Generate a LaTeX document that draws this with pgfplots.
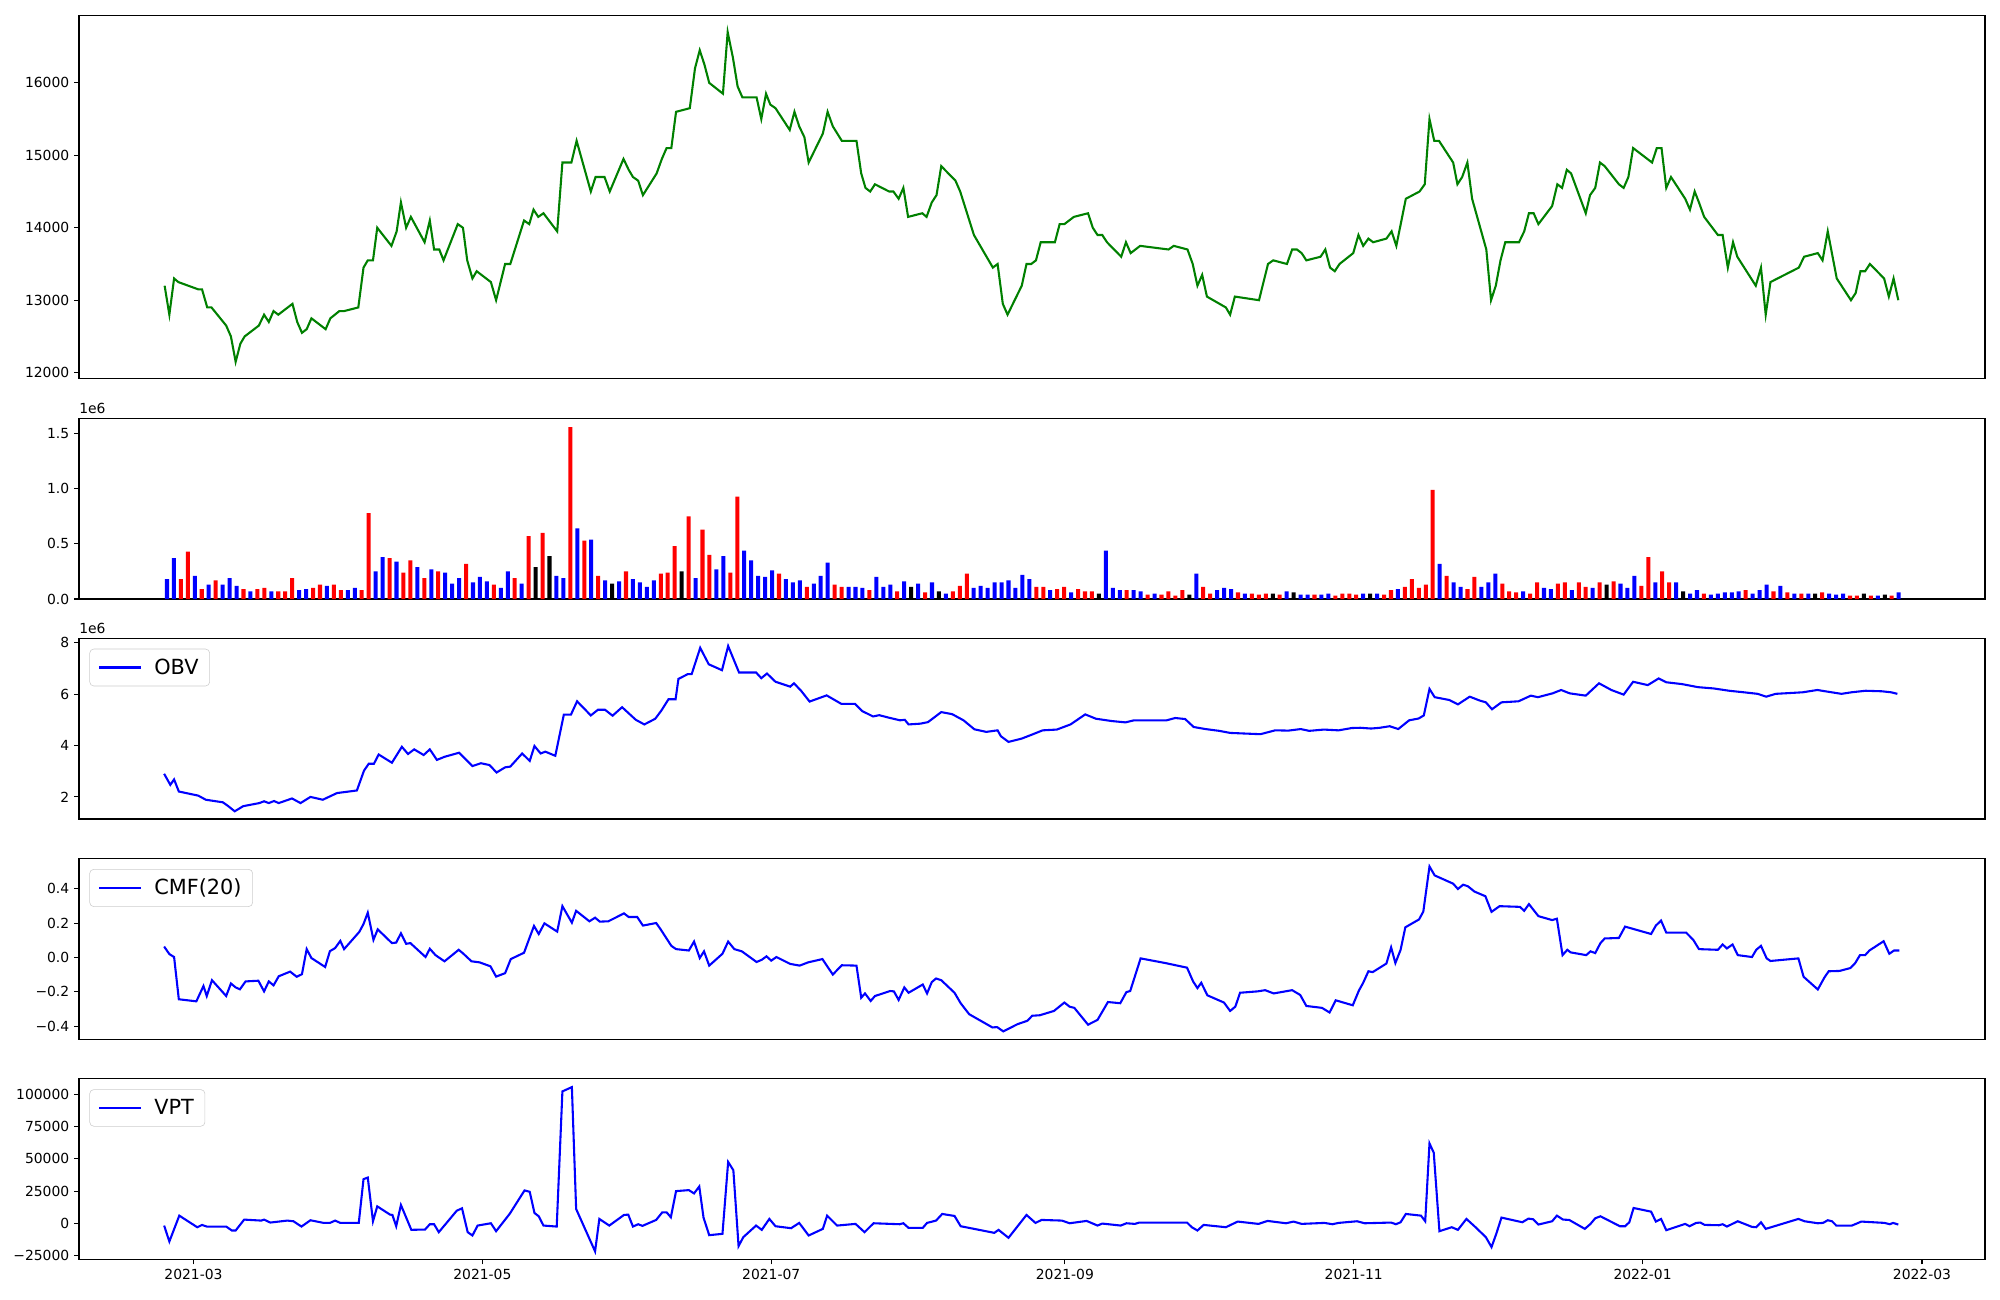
\documentclass[border=0pt]{standalone}
\usepackage{fontspec}
\setmainfont{DejaVu Sans}
\usepackage{pgfplots}
\usepackage{pgfplotstable}
\pgfplotsset{compat=1.18}
\definecolor{mplgreen}{RGB}{0,128,0}
\definecolor{legframe}{RGB}{204,204,204}

\pgfplotstableread{
i v
2 0.18
3 0.43
5 0.09
7 0.17
11 0.09
13 0.09
14 0.10
16 0.07
17 0.07
18 0.19
21 0.10
22 0.13
24 0.13
25 0.08
28 0.08
29 0.78
32 0.37
34 0.24
35 0.35
37 0.19
39 0.25
43 0.32
47 0.13
50 0.19
52 0.57
54 0.60
58 1.56
60 0.53
62 0.21
66 0.25
71 0.23
72 0.24
73 0.48
75 0.75
77 0.63
78 0.40
81 0.24
82 0.93
88 0.23
92 0.11
96 0.13
97 0.11
101 0.08
105 0.07
109 0.06
113 0.07
114 0.12
115 0.23
125 0.11
126 0.11
128 0.09
129 0.11
131 0.09
132 0.07
133 0.07
138 0.08
141 0.04
143 0.04
144 0.07
145 0.03
146 0.08
149 0.11
150 0.05
154 0.06
156 0.05
157 0.04
158 0.05
160 0.04
165 0.04
168 0.03
169 0.05
170 0.05
171 0.04
175 0.04
176 0.08
178 0.11
179 0.18
180 0.10
181 0.13
182 0.99
184 0.21
187 0.09
188 0.20
192 0.14
193 0.07
194 0.06
196 0.05
197 0.15
200 0.14
201 0.15
203 0.15
204 0.11
206 0.15
208 0.16
212 0.12
213 0.38
215 0.25
216 0.15
221 0.05
227 0.08
231 0.07
233 0.06
235 0.05
238 0.06
242 0.03
243 0.03
245 0.03
248 0.03
}\volred

\pgfplotstableread{
i v
53 0.29
55 0.39
64 0.14
74 0.25
107 0.11
111 0.07
134 0.05
147 0.04
159 0.05
162 0.06
173 0.05
207 0.13
218 0.07
237 0.05
244 0.05
247 0.04
}\volblack

\pgfplotstableread{
i v
0 0.18
1 0.37
4 0.21
6 0.13
8 0.13
9 0.19
10 0.12
12 0.07
15 0.07
19 0.08
20 0.09
23 0.12
26 0.08
27 0.10
30 0.25
31 0.38
33 0.34
36 0.29
38 0.27
40 0.24
41 0.14
42 0.19
44 0.15
45 0.20
46 0.16
48 0.10
49 0.25
51 0.14
56 0.21
57 0.19
59 0.64
61 0.54
63 0.17
65 0.16
67 0.18
68 0.15
69 0.11
70 0.17
76 0.19
79 0.27
80 0.39
83 0.44
84 0.35
85 0.21
86 0.20
87 0.26
89 0.18
90 0.15
91 0.17
93 0.14
94 0.21
95 0.33
98 0.11
99 0.11
100 0.10
102 0.20
103 0.11
104 0.13
106 0.16
108 0.14
110 0.15
112 0.05
116 0.10
117 0.12
118 0.10
119 0.15
120 0.15
121 0.17
122 0.10
123 0.22
124 0.18
127 0.08
130 0.06
135 0.44
136 0.10
137 0.08
139 0.08
140 0.07
142 0.05
148 0.23
151 0.08
152 0.10
153 0.09
155 0.05
161 0.07
163 0.04
164 0.04
166 0.04
167 0.05
172 0.05
174 0.05
177 0.09
183 0.32
185 0.15
186 0.11
189 0.11
190 0.15
191 0.23
195 0.07
198 0.10
199 0.09
202 0.08
205 0.10
209 0.14
210 0.10
211 0.21
214 0.15
217 0.15
219 0.05
220 0.08
222 0.04
223 0.05
224 0.06
225 0.06
226 0.07
228 0.05
229 0.08
230 0.13
232 0.12
234 0.05
236 0.05
239 0.05
240 0.04
241 0.05
246 0.03
249 0.06
}\volblue

\pgfplotsset{
 mpl/.style={scale only axis, width=1372.3pt, xmin=34.82, xmax=437.3,
   axis line style={line width=0.8pt}, tick style={black, line width=0.8pt},
   tick align=outside, major tick length=3.5pt, xtick pos=bottom, ytick pos=left,
   tick label style={font=\fontsize{10}{12}\selectfont},
   scaled ticks=false, clip mode=individual,
   /pgf/number format/assume math mode=true, /pgf/number format/1000 sep={}},
 mpllegend/.style={legend style={at={(0,1)}, anchor=north west, xshift=7.5pt, yshift=-7.5pt,
   draw=legframe, rounded corners=3pt, fill=white, font=\fontsize{15}{18}\selectfont,
   inner xsep=6pt, inner ysep=5pt, cells={anchor=west}},
   legend image code/.code={\draw[##1] (0pt,0pt) -- (30pt,0pt); \path (37pt,0pt);}},
 volbar/.style={ybar, bar width=0.85, bar shift=0pt, draw=none, fill=#1},
}

\begin{document}
\begin{tikzpicture}
\useasboundingbox (0,0) rectangle (1440pt,936pt);

% Panel 1: price
\begin{axis}[mpl, at={(56.88pt,663.6pt)}, anchor=south west, height=261.1pt,
  ymin=11922, ymax=16927, ytick={12000,13000,14000,15000,16000}, xtick=\empty]
\addplot[mplgreen, line width=1.5pt] coordinates {
(52.9,13200) (53.9,12800) (54.9,13300) (55.8,13250) (60.0,13150) (60.8,13150) (61.9,12900) (62.8,12900) (65.9,12650) (66.9,12500) (67.9,12150) (68.9,12400) (69.8,12500) (72.8,12650) (73.9,12800) (74.9,12700) (75.9,12850) (76.9,12800) (79.9,12950) (80.9,12700) (81.9,12550) (82.9,12600) (83.9,12750) (86.9,12600) (87.9,12750) (89.8,12850) (90.8,12850) (93.8,12900) (94.9,13450) (95.8,13550) (96.9,13550) (97.8,14000) (100.8,13750) (101.9,13950) (102.8,14350) (103.9,14000) (104.9,14150) (107.8,13800) (108.9,14100) (109.8,13700) (110.9,13700) (111.8,13550) (114.8,14050) (115.9,14000) (116.8,13550) (117.9,13300) (118.8,13400) (121.8,13250) (122.9,13000) (124.8,13500) (125.9,13500) (128.8,14100) (129.9,14050) (130.8,14250) (131.8,14150) (132.9,14200) (135.8,13950) (136.9,14900) (138.8,14900) (139.9,15200) (142.9,14500) (143.9,14700) (145.8,14700) (146.9,14500) (149.8,14950) (150.9,14800) (151.8,14700) (152.9,14650) (153.9,14450) (156.8,14750) (157.9,14950) (158.9,15100) (159.9,15100) (160.9,15600) (163.8,15650) (164.9,16200) (165.9,16450) (166.9,16250) (167.9,16000) (170.8,15850) (171.8,16700) (172.9,16350) (173.9,15950) (174.9,15800) (177.9,15800) (178.9,15500) (179.9,15850) (180.8,15700) (181.9,15650) (184.9,15350) (185.9,15600) (186.9,15400) (188.0,15250) (188.9,14900) (191.9,15300) (192.9,15600) (194.0,15400) (195.9,15200) (199.0,15200) (200.0,14750) (200.9,14550) (201.9,14500) (202.9,14600) (205.9,14500) (206.8,14500) (207.9,14400) (208.9,14550) (209.9,14150) (212.9,14200) (213.8,14150) (214.9,14350) (215.9,14450) (216.9,14850) (219.9,14650) (220.9,14500) (223.8,13900) (227.8,13450) (228.8,13500) (229.9,12950) (230.9,12800) (233.9,13200) (234.9,13500) (235.9,13500) (236.9,13550) (237.9,13800) (240.9,13800) (241.9,14050) (242.9,14050) (244.9,14150) (247.9,14200) (248.9,14000) (249.9,13900) (250.9,13900) (251.9,13800) (254.9,13600) (255.9,13800) (256.9,13650) (258.9,13750) (264.9,13700) (266.0,13750) (268.9,13700) (270.0,13500) (271.0,13200) (272.0,13350) (273.0,13050) (277.0,12900) (277.9,12800) (278.9,13050) (284.0,13000) (285.9,13500) (287.0,13550) (289.9,13500) (291.0,13700) (292.0,13700) (293.0,13650) (294.0,13550) (297.0,13600) (298.0,13700) (299.0,13450) (300.0,13400) (301.0,13500) (303.9,13650) (305.0,13900) (306.0,13750) (307.1,13850) (308.1,13800) (310.9,13850) (312.0,13950) (313.0,13750) (315.0,14400) (317.9,14500) (319.0,14600) (320.0,15500) (321.0,15200) (322.0,15200) (325.0,14900) (325.9,14600) (326.9,14700) (328.0,14900) (329.0,14400) (332.0,13700) (333.0,13000) (334.0,13200) (335.0,13550) (336.0,13800) (338.9,13800) (340.0,13950) (341.0,14200) (342.0,14200) (343.0,14050) (345.9,14300) (347.0,14600) (348.0,14550) (349.0,14800) (349.9,14750) (353.0,14200) (353.9,14450) (355.0,14550) (356.0,14900) (357.0,14850) (360.0,14600) (361.0,14550) (362.0,14700) (363.0,15100) (367.0,14900) (368.0,15100) (369.0,15100) (370.0,14550) (371.0,14700) (374.0,14400) (375.0,14250) (376.0,14500) (376.9,14350) (378.0,14150) (380.9,13900) (381.9,13900) (383.0,13450) (384.1,13800) (385.0,13600) (388.9,13200) (390.0,13450) (391.0,12800) (392.0,13250) (398.0,13450) (399.1,13600) (402.0,13650) (403.0,13550) (404.1,13950) (406.0,13300) (409.0,13000) (410.0,13100) (411.0,13400) (412.0,13400) (413.0,13500) (416.0,13300) (417.0,13050) (418.0,13300) (419.0,13000)
};
\end{axis}

% Panel 2: volume
\begin{axis}[mpl, at={(56.88pt,504.7pt)}, anchor=south west, height=130.1pt,
  ymin=0, ymax=1.64, ytick={0,0.5,1,1.5}, yticklabels={0.0,0.5,1.0,1.5}, xtick=\empty]
\addplot[volbar=red] table[x expr=53.40+\thisrow{i}*1.46859, y=v] {\volred};
\addplot[volbar=blue] table[x expr=53.40+\thisrow{i}*1.46859, y=v] {\volblue};
\addplot[volbar=black] table[x expr=53.40+\thisrow{i}*1.46859, y=v] {\volblack};
\node[anchor=base west, inner sep=0pt, font=\fontsize{10}{12}\selectfont, yshift=3.6pt] at (rel axis cs:0,1) {1e6};
\end{axis}

% Panel 3: OBV
\begin{axis}[mpl, mpllegend, at={(56.88pt,346.3pt)}, anchor=south west, height=130.1pt,
  ymin=1.14, ymax=8.17, ytick={2,4,6,8}, xtick=\empty]
\addplot[blue, line width=1.5pt] coordinates {
(52.8,2.90) (54.1,2.47) (54.9,2.68) (55.9,2.21) (60.0,2.05) (61.6,1.89) (65.2,1.79) (66.2,1.66) (67.7,1.44) (69.5,1.64) (72.9,1.76) (73.9,1.83) (74.9,1.76) (76.0,1.84) (77.0,1.76) (79.8,1.94) (81.6,1.76) (83.7,2.00) (86.3,1.89) (89.3,2.15) (93.5,2.25) (95.0,3.02) (96.0,3.29) (97.1,3.29) (98.1,3.65) (100.9,3.33) (103.0,3.95) (104.3,3.67) (105.6,3.85) (107.6,3.63) (108.9,3.85) (110.4,3.44) (112.0,3.56) (115.1,3.72) (117.9,3.20) (119.7,3.31) (121.5,3.24) (123.0,2.95) (124.8,3.15) (125.9,3.18) (128.4,3.69) (130.0,3.40) (131.0,3.98) (132.3,3.69) (133.3,3.76) (135.4,3.60) (137.2,5.20) (138.7,5.20) (140.0,5.72) (142.9,5.17) (144.4,5.39) (145.9,5.39) (147.5,5.16) (149.5,5.49) (152.4,5.00) (154.2,4.82) (156.5,5.04) (157.8,5.36) (159.3,5.80) (160.8,5.80) (161.4,6.59) (163.4,6.78) (164.2,6.78) (166.0,7.80) (167.8,7.16) (170.6,6.93) (171.9,7.87) (174.2,6.84) (177.8,6.84) (178.9,6.62) (180.1,6.80) (181.9,6.48) (185.0,6.29) (185.8,6.42) (187.3,6.13) (189.1,5.71) (192.7,5.95) (195.8,5.62) (198.7,5.62) (200.2,5.34) (202.5,5.13) (203.8,5.18) (205.9,5.08) (208.2,4.98) (209.2,5.00) (210.0,4.82) (212.5,4.85) (214.1,4.91) (216.9,5.30) (219.2,5.22) (221.6,4.98) (223.9,4.63) (226.4,4.53) (228.8,4.59) (229.5,4.36) (231.1,4.14) (233.9,4.27) (236.0,4.42) (238.3,4.59) (241.3,4.62) (244.2,4.82) (247.3,5.21) (249.6,5.04) (253.0,4.95) (255.8,4.90) (257.6,4.98) (264.5,4.98) (266.3,5.07) (268.4,5.03) (270.2,4.72) (272.7,4.64) (275.6,4.57) (277.9,4.49) (284.3,4.44) (287.4,4.59) (290.2,4.58) (292.8,4.64) (294.6,4.57) (297.7,4.62) (300.8,4.59) (303.6,4.68) (305.4,4.69) (307.7,4.66) (309.5,4.69) (311.6,4.75) (313.4,4.64) (315.7,4.98) (317.7,5.05) (318.8,5.17) (320.0,6.20) (321.1,5.88) (324.2,5.77) (326.0,5.60) (328.5,5.90) (330.6,5.75) (331.9,5.68) (333.2,5.41) (335.2,5.68) (338.8,5.72) (341.4,5.94) (342.9,5.88) (346.0,6.03) (347.8,6.16) (349.6,6.03) (353.0,5.94) (355.8,6.42) (358.4,6.16) (361.0,5.98) (363.0,6.48) (366.1,6.35) (368.4,6.61) (370.0,6.46) (373.3,6.39) (376.7,6.27) (380.0,6.22) (383.3,6.13) (386.4,6.07) (389.3,6.01) (391.1,5.90) (393.1,6.01) (398.8,6.07) (401.9,6.16) (403.9,6.10) (407.0,6.01) (409.1,6.07) (412.1,6.13) (415.5,6.11) (417.5,6.07) (418.8,6.01)
};
\addlegendentry{OBV}
\node[anchor=base west, inner sep=0pt, font=\fontsize{10}{12}\selectfont, yshift=3.6pt] at (rel axis cs:0,1) {1e6};
\end{axis}

% Panel 4: CMF
\begin{axis}[mpl, mpllegend, at={(56.88pt,187.7pt)}, anchor=south west, height=130.1pt,
  ymin=-0.476, ymax=0.576, ytick={-0.4,-0.2,0,0.2,0.4}, yticklabels={−0.4,−0.2,0.0,0.2,0.4}, xtick=\empty]
\addplot[blue, line width=1.5pt] coordinates {
(52.8,0.064) (53.9,0.020) (54.9,0.003) (55.9,-0.243) (59.6,-0.255) (61.1,-0.166) (61.8,-0.224) (62.9,-0.132) (65.9,-0.224) (66.9,-0.151) (67.9,-0.174) (68.8,-0.185) (70.0,-0.139) (72.7,-0.135) (73.9,-0.197) (74.9,-0.139) (75.9,-0.162) (77.0,-0.109) (79.4,-0.082) (80.8,-0.112) (81.9,-0.097) (82.9,0.049) (83.9,-0.003) (86.8,-0.055) (87.8,0.037) (88.9,0.055) (90.0,0.097) (90.8,0.049) (94.0,0.149) (94.9,0.195) (95.8,0.261) (97.0,0.103) (97.9,0.164) (100.9,0.084) (101.8,0.087) (102.8,0.141) (103.9,0.080) (104.8,0.084) (108.0,0.003) (108.9,0.051) (110.1,0.014) (112.0,-0.022) (115.0,0.045) (116.0,0.022) (117.7,-0.022) (119.4,-0.028) (121.7,-0.051) (122.9,-0.111) (124.8,-0.091) (126.0,-0.009) (128.8,0.028) (130.0,0.118) (130.9,0.184) (131.9,0.137) (133.1,0.199) (135.8,0.151) (136.9,0.299) (138.9,0.203) (139.8,0.272) (142.6,0.211) (143.8,0.232) (144.8,0.209) (146.6,0.211) (149.9,0.257) (150.9,0.236) (152.7,0.236) (153.9,0.186) (156.7,0.201) (157.6,0.166) (159.9,0.068) (160.9,0.049) (163.6,0.041) (164.7,0.093) (165.9,-0.003) (166.8,0.036) (167.9,-0.047) (170.7,0.022) (171.9,0.093) (173.2,0.049) (174.8,0.036) (177.9,-0.026) (179.0,-0.013) (180.0,0.007) (181.0,-0.018) (182.1,0.003) (185.0,-0.037) (187.0,-0.047) (188.8,-0.028) (191.8,-0.009) (194.0,-0.099) (195.9,-0.045) (199.0,-0.047) (200.0,-0.234) (200.8,-0.209) (202.0,-0.253) (202.9,-0.224) (206.1,-0.195) (206.9,-0.197) (207.9,-0.247) (209.1,-0.174) (210.0,-0.205) (213.0,-0.157) (213.9,-0.209) (214.9,-0.143) (215.8,-0.122) (216.9,-0.132) (219.7,-0.205) (221.0,-0.266) (222.8,-0.330) (227.7,-0.407) (228.7,-0.405) (230.0,-0.430) (233.0,-0.388) (235.1,-0.368) (236.1,-0.339) (237.7,-0.336) (240.7,-0.311) (242.9,-0.262) (244.0,-0.286) (245.0,-0.293) (247.9,-0.391) (249.9,-0.363) (252.1,-0.259) (254.7,-0.266) (256.0,-0.201) (256.8,-0.195) (259.0,-0.005) (264.2,-0.032) (268.8,-0.059) (270.1,-0.140) (271.0,-0.178) (271.8,-0.147) (273.1,-0.220) (276.6,-0.262) (277.9,-0.311) (279.0,-0.286) (280.0,-0.205) (283.7,-0.197) (285.3,-0.190) (287.1,-0.209) (291.0,-0.190) (292.7,-0.218) (294.0,-0.282) (297.3,-0.293) (298.9,-0.320) (300.2,-0.249) (303.8,-0.278) (305.1,-0.192) (306.0,-0.147) (307.1,-0.080) (308.0,-0.085) (310.9,-0.035) (311.9,0.059) (312.8,-0.032) (313.9,0.045) (314.9,0.176) (317.8,0.222) (318.7,0.268) (320.0,0.530) (321.1,0.478) (325.0,0.430) (326.0,0.399) (327.1,0.424) (328.1,0.415) (329.5,0.384) (331.8,0.357) (333.1,0.266) (334.8,0.299) (339.1,0.295) (340.0,0.272) (341.0,0.311) (343.0,0.241) (345.9,0.218) (346.9,0.226) (348.1,0.014) (349.1,0.045) (349.8,0.030) (353.1,0.014) (354.0,0.036) (355.0,0.026) (356.1,0.084) (357.0,0.111) (360.0,0.114) (361.3,0.180) (366.8,0.137) (367.8,0.186) (368.9,0.215) (370.0,0.145) (374.2,0.145) (375.7,0.103) (376.9,0.049) (380.9,0.045) (381.9,0.076) (382.8,0.053) (384.0,0.076) (385.1,0.014) (388.1,0.003) (389.0,0.045) (390.0,0.068) (391.2,-0.005) (392.0,-0.020) (397.9,-0.005) (399.0,-0.112) (402.0,-0.186) (403.4,-0.116) (404.3,-0.080) (406.6,-0.078) (408.9,-0.061) (409.9,-0.032) (410.9,0.014) (412.0,0.014) (412.9,0.041) (415.9,0.095) (417.1,0.022) (418.1,0.041) (419.2,0.041)
};
\addlegendentry{CMF(20)}
\end{axis}

% Panel 5: VPT
\begin{axis}[mpl, mpllegend, at={(56.88pt,29.1pt)}, anchor=south west, height=130.1pt,
  ymin=-28000, ymax=111800, ytick={-25000,0,25000,50000,75000,100000},
  yticklabels={−25000,0,25000,50000,75000,100000},
  xtick={59,120,181,243,304,365,424},
  xticklabels={2021-03,2021-05,2021-07,2021-09,2021-11,2022-01,2022-03}]
\addplot[blue, line width=1.5pt] coordinates {
(52.8,-1700) (53.9,-14000) (56.0,6000) (59.8,-3000) (60.8,-1200) (61.8,-2450) (65.9,-2450) (67.1,-5500) (67.9,-5500) (69.7,2930) (73.3,2160) (73.9,2930) (75.2,640) (78.8,2160) (80.1,1650) (81.8,-2450) (83.7,2420) (86.5,370) (87.8,370) (88.9,2160) (90.0,370) (93.9,370) (94.9,34200) (95.8,35480) (96.9,1650) (97.8,13180) (100.5,6780) (101.0,6520) (101.8,-2200) (102.8,14210) (105.0,-4990) (107.9,-4750) (108.9,-650) (109.8,-650) (110.8,-6800) (114.6,9850) (115.7,11650) (116.9,-6800) (117.9,-9370) (119.0,-1680) (121.8,100) (122.9,-6040) (125.8,7550) (128.9,25490) (130.0,24460) (131.0,8060) (131.9,5500) (132.9,-1680) (135.7,-2450) (136.9,102120) (138.9,105450) (139.8,11140) (143.8,-21670) (144.7,3450) (146.8,-1680) (149.9,6520) (150.8,6780) (151.8,-2450) (152.9,-650) (153.8,-1930) (156.7,2680) (158.0,8570) (158.9,8570) (159.8,4730) (160.9,24970) (163.6,25740) (164.7,23180) (165.8,28560) (166.7,4470) (167.9,-9120) (170.7,-8090) (171.9,47530) (173.0,41120) (174.1,-17570) (175.1,-10650) (177.8,-1680) (179.0,-5010) (180.6,3450) (181.9,-2200) (185.2,-3730) (186.9,370) (188.9,-9370) (191.9,-4240) (192.8,6000) (194.9,-1680) (198.8,-400) (200.7,-6800) (202.6,100) (208.1,-650) (208.9,100) (210.0,-3480) (213.0,-3480) (213.9,370) (215.8,2160) (217.1,7290) (219.7,5750) (221.0,-2200) (228.1,-7320) (229.0,-5010) (231.1,-11160) (234.9,6520) (236.8,370) (238.1,2680) (242.4,2160) (244.0,100) (247.6,1910) (249.9,-1680) (250.9,-140) (254.8,-1680) (256.0,100) (257.8,-400) (258.7,640) (268.8,640) (269.8,-2960) (271.0,-5520) (272.3,-1170) (277.0,-2960) (279.5,1400) (283.9,-400) (285.8,1910) (289.7,100) (291.3,1400) (293.0,-400) (297.8,370) (299.5,-650) (300.8,370) (304.7,1650) (306.3,100) (311.9,640) (312.9,-650) (313.9,880) (315.0,7290) (318.2,6000) (319.1,1650) (320.0,61880) (320.9,54700) (322.1,-6040) (324.7,-2960) (326.0,-5010) (327.8,3450) (329.5,-2200) (331.9,-10650) (333.1,-18340) (334.1,-8090) (335.2,4470) (339.6,880) (340.9,3700) (341.9,3190) (343.0,-910) (345.9,1650) (346.9,6000) (348.2,2930) (349.5,2680) (352.8,-4240) (354.0,-400) (355.0,3960) (356.1,5500) (360.2,-2200) (361.3,-2200) (362.2,880) (363.1,11910) (366.8,9080) (367.8,1400) (368.9,3450) (370.0,-5270) (374.0,-400) (374.9,-2200) (376.3,370) (377.2,640) (378.1,-1170) (381.1,-1420) (381.9,-650) (382.8,-2450) (385.1,1650) (388.1,-2710) (389.0,-2960) (390.0,880) (391.0,-4240) (397.9,3450) (399.2,1650) (402.0,100) (403.1,370) (404.1,2420) (405.0,1650) (405.9,-1680) (409.2,-1680) (411.2,1400) (416.1,370) (417.2,-650) (417.9,370) (419.0,-910)
};
\addlegendentry{VPT}
\end{axis}
\end{tikzpicture}
\end{document}
